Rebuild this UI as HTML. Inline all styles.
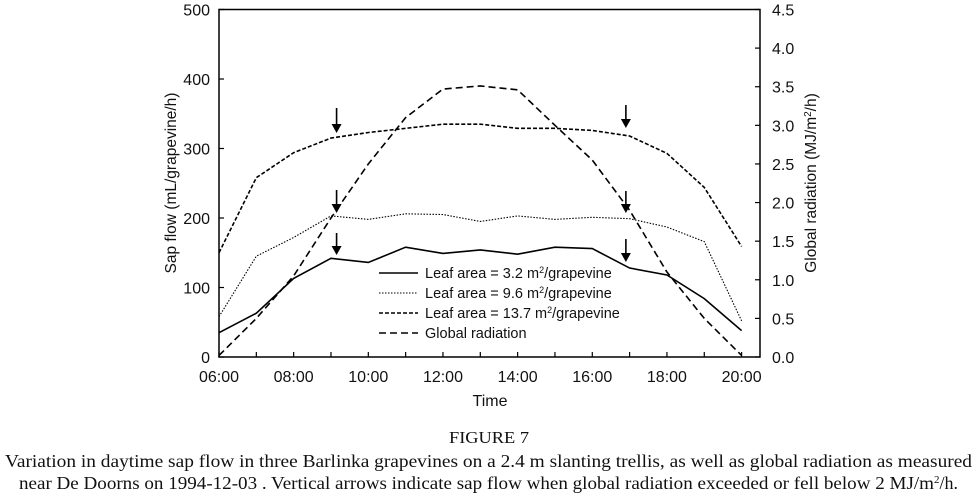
<!DOCTYPE html>
<html><head><meta charset="utf-8"><style>
html,body{margin:0;padding:0;background:#fff;}
svg{display:block;}
text{font-family:"Liberation Sans",Arial,sans-serif;fill:#111;}
.serif{font-family:"Liberation Serif","Times New Roman",serif;}
</style></head><body>
<svg id="chart" width="977" height="498" viewBox="0 0 977 498" xmlns="http://www.w3.org/2000/svg">
<g id="plot"></g>
</svg>
<script>
const hours = [6,7,8,9,10,11,12,13,14,15,16,17,18,19,20];
const xTickLabels = ["06:00","08:00","10:00","12:00","14:00","16:00","18:00","20:00"];
const xTickHours = [6,8,10,12,14,16,18,20];
const leftTicks = [0,100,200,300,400,500];
const rightTicks = ["0.0","0.5","1.0","1.5","2.0","2.5","3.0","3.5","4.0","4.5"];
const leaf32 = [35,63,113,142,136,158,149,154,148,158,156,128,118,84,38];
const leaf96 = [58,145,172,203,198,206,205,195,203,198,201,199,187,166,52];
const leaf137 = [150,258,294,315,323,329,335,335,329,329,326,318,293,244,159];
const radiation = [0.02,0.5,1.05,1.8,2.5,3.1,3.47,3.51,3.46,3.0,2.55,1.9,1.1,0.5,0.02];
const arrowHours = [9.15,16.9];
const arrowLeft = [[108,133],[190,213],[233,255]];
const arrowRight = [[105,128],[191,213],[239,262]];

const NS="http://www.w3.org/2000/svg";
const X0=219, XR=760, Y0=357, YT=9.5;
const x=h=>X0+(h-6)*(741.6-219)/14;
const yL=v=>Y0-v*(Y0-YT)/500;
const yR=v=>Y0-v*(Y0-YT)/4.5;
const g=document.getElementById('plot');
function mk(t,a,p){const e=document.createElementNS(NS,t);for(const k in a)e.setAttribute(k,a[k]);(p||g).appendChild(e);return e;}

const frame=mk('rect',{x:X0,y:YT,width:XR-X0,height:Y0-YT,fill:'none',stroke:'#000','stroke-width':1.5});



leftTicks.forEach(v=>{
  mk('line',{x1:X0,x2:X0+5,y1:yL(v),y2:yL(v),stroke:'#000','stroke-width':1.2});
  const t=mk('text',{x:X0-9,y:yL(v)+6,'text-anchor':'end','font-size':16});t.textContent=v;
  
  
});
rightTicks.forEach((s,i)=>{
  const v=parseFloat(s);
  mk('line',{x1:XR-5,x2:XR,y1:yR(v),y2:yR(v),stroke:'#000','stroke-width':1.2});
  const t=mk('text',{x:772,y:yR(v)+6,'text-anchor':'start','font-size':16});t.textContent=s;
  
  
});
hours.forEach(h=>mk('line',{x1:x(h),x2:x(h),y1:Y0,y2:Y0-5,stroke:'#000','stroke-width':1.2}));
xTickHours.forEach((h,i)=>{
  const t=mk('text',{x:x(h),y:382,'text-anchor':'middle','font-size':16});t.textContent=xTickLabels[i];
  
  
});

function series(vals,yf,dash,w,name){
  const p=mk('polyline',{points:vals.map((v,i)=>x(hours[i])+','+yf(v)).join(' '),fill:'none',stroke:'#000','stroke-width':w,'stroke-dasharray':dash});
  
  
}
series(leaf32,yL,'none',1.6,'line-leaf-3-2');
series(leaf96,yL,'1.5 1.5',1.1,'line-leaf-9-6');
series(leaf137,yL,'4 2',1.6,'line-leaf-13-7');
series(radiation,yR,'7 4',1.6,'line-global-radiation');

arrowHours.forEach((h,k)=>{
  (k===0?arrowLeft:arrowRight).forEach(r=>{
    const cx=x(h);
    const a=mk('line',{x1:cx,x2:cx,y1:r[0],y2:r[1]-6,stroke:'#000','stroke-width':1.6});
    
    
    const hd=mk('polygon',{points:(cx-5)+','+(r[1]-9)+' '+(cx+5)+','+(r[1]-9)+' '+cx+','+r[1],fill:'#000'});
    
    
  });
});

const leg=[['none',1.6,'Leaf area = 3.2 m','2','/grapevine'],['1.5 1.5',1.1,'Leaf area = 9.6 m','2','/grapevine'],['4 2',1.6,'Leaf area = 13.7 m','2','/grapevine'],['7 4',1.6,'Global radiation','','']];
leg.forEach((l,i)=>{
  const yy=273+i*20;
  const s=mk('line',{x1:379,x2:418,y1:yy,y2:yy,stroke:'#000','stroke-width':l[1],'stroke-dasharray':l[0]});
  
  
  const t=mk('text',{x:425,y:yy+5,'font-size':14.5});
  
  
  t.appendChild(document.createTextNode(l[2]));
  if(l[3]){const sp=mk('tspan',{dy:-5,'font-size':9},t);sp.textContent=l[3];const sp2=mk('tspan',{dy:5},t);sp2.textContent=l[4];}
});

let t=mk('text',{x:490,y:406,'text-anchor':'middle','font-size':16});t.textContent='Time';

t=mk('text',{transform:'translate(176,183) rotate(-90)','text-anchor':'middle','font-size':15.5});t.textContent='Sap flow (mL/grapevine/h)';

t=mk('text',{transform:'translate(816,183) rotate(-90)','text-anchor':'middle','font-size':15.5});

t.appendChild(document.createTextNode('Global radiation (MJ/m'));
let sp=mk('tspan',{dy:-5,'font-size':10},t);sp.textContent='2';
sp=mk('tspan',{dy:5},t);sp.textContent='/h)';

t=mk('text',{x:489,y:443,'text-anchor':'middle','font-size':17,'class':'serif',textLength:80,lengthAdjust:'spacingAndGlyphs'});t.textContent='FIGURE 7';

t=mk('text',{x:5,y:467,'font-size':18,'class':'serif',textLength:967,lengthAdjust:'spacingAndGlyphs'});
t.textContent='Variation in daytime sap flow in three Barlinka grapevines on a 2.4 m slanting trellis, as well as global radiation as measured';

t=mk('text',{x:19,y:489,'font-size':18,'class':'serif'});

const p1=mk('tspan',{textLength:915,lengthAdjust:'spacingAndGlyphs'},t);
p1.textContent='near De Doorns on 1994-12-03 . Vertical arrows indicate sap flow when global radiation exceeded or fell below 2 MJ/m';
sp=mk('tspan',{dy:-6,'font-size':11},t);sp.textContent='2';
sp=mk('tspan',{dy:6},t);sp.textContent='/h.';
</script>
</body></html>
